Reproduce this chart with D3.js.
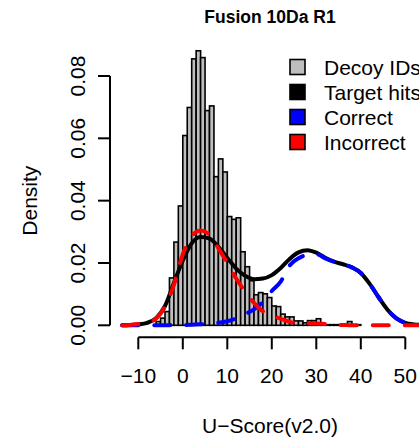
<!DOCTYPE html>
<html><head><meta charset="utf-8">
<script src="https://cdn.jsdelivr.net/npm/d3@7"></script>
<style>
html,body{margin:0;padding:0;background:#fff;}
svg{display:block;}
text{font-family:"Liberation Sans",Arial,Helvetica,sans-serif;fill:#000;}
</style></head>
<body>
<svg id="c" width="419" height="442"></svg>
<script>
// Histogram of decoy IDs: bin starts (width 1) and densities
const binStarts = [-6,-5,-4,-3,-2,-1,0,1,2,3,4,5,6,7,8,9,10,11,12,13,14,15,16,17,18,19,20,21,22,23,24,25,26,27,28,29,30,31,32,33,34,35,36,37,38,39];
const decoyDensity = [0.0012,0.0023,0.0044,0.0152,0.0267,0.0383,0.0609,0.0699,0.0855,0.0881,0.0859,0.0689,0.0704,0.0477,0.0534,0.0492,0.0349,0.0340,0.0345,0.0236,0.0188,0.0143,0.0098,0.0105,0.0101,0.0089,0.0062,0.0060,0.0036,0.0027,0.0027,0.0014,0.0014,0.0008,0.0015,0.0015,0.0021,0.0004,0.0002,0.0002,0.0002,0.0002,0.0002,0.0012,0.0002,0.0002];

// Density curves
const curveX      = [-13.6,-12,-10,-8,-6,-4,-2,0,2,4,6,8,10,12,14,16,18,20,22,24,26,28,30,32,34,36,38,40,42,44,46,48,50,52,53.6];
const targetHits  = [0,0.0001,0.0003,0.0008,0.0023,0.0062,0.0136,0.0208,0.0263,0.0283,0.0278,0.0252,0.0216,0.0182,0.0159,0.0148,0.0150,0.0161,0.0184,0.0213,0.0234,0.0241,0.0233,0.0217,0.0204,0.0196,0.0186,0.0168,0.0133,0.0090,0.0050,0.0022,0.0008,0.0003,0.0001];
const correct     = [0,0,0,0,0,0,0.0001,0.0001,0.0002,0.0003,0.0005,0.0008,0.0013,0.0022,0.0036,0.0051,0.0075,0.0110,0.0140,0.0192,0.0215,0.0226,0.0228,0.0215,0.0204,0.0196,0.0186,0.0168,0.0133,0.0090,0.0050,0.0022,0.0008,0.0003,0.0001];
const incorrect   = [0,0.0001,0.0004,0.0008,0.0022,0.0060,0.0130,0.0228,0.0285,0.0304,0.0290,0.0247,0.0200,0.0150,0.0108,0.0072,0.0045,0.0032,0.0021,0.0011,0.0007,0.0007,0.0006,0.0004,0.0002,0.0001,0,0,0,0,0,0,0,0,0];

const xTicks = [-10,0,10,20,30,40,50];
const yTicks = [0,0.02,0.04,0.06,0.08];
const legendLabels = ["Decoy IDs","Target hits","Correct","Incorrect"];
const legendColors = ["#bebebe","#000000","#0000ff","#ff0000"];

const svg = d3.select("#c");
const x = d3.scaleLinear().domain([-10,50]).range([138.3,405.3]);
const y = d3.scaleLinear().domain([0,0.08]).range([325.3,76]);

// bars
svg.append("g").selectAll("rect").data(binStarts).join("rect")
  .attr("x", d=>x(d)).attr("width", d=>x(d+1)-x(d))
  .attr("y", (d,i)=>y(decoyDensity[i])).attr("height",(d,i)=>y(0)-y(decoyDensity[i]))
  .attr("fill","#bebebe").attr("stroke","#000").attr("stroke-width",1.6);

const line = d3.line().x(d=>x(d[0])).y(d=>y(d[1])).curve(d3.curveMonotoneX);
function draw(vals,color,dashed){
  svg.append("path").datum(curveX.map((v,i)=>[v,vals[i]]))
    .attr("d",line).attr("fill","none").attr("stroke",color).attr("stroke-width",4)
    .attr("stroke-linecap","round").attr("stroke-linejoin","round")
    .attr("stroke-dasharray",dashed?"16,16":null);
}
draw(targetHits,"#000",false);
draw(correct,"#0000ff",true);
draw(incorrect,"#ff0000",true);

// x axis
const xa = svg.append("g").attr("transform","translate(0,337.3)");
xa.append("line").attr("x1",x(-10)).attr("x2",x(50)).attr("stroke","#000").attr("stroke-width",2);
xa.selectAll("line.t").data(xTicks).join("line").attr("class","t")
  .attr("x1",d=>x(d)).attr("x2",d=>x(d)).attr("y1",0).attr("y2",12).attr("stroke","#000").attr("stroke-width",2);
xa.selectAll("text").data(xTicks).join("text")
  .attr("x",d=>x(d)).attr("y",45.4).attr("text-anchor","middle").attr("font-size",21)
  .text(d=>d<0?"\u2212"+Math.abs(d):d);

// y axis
const ya = svg.append("g").attr("transform","translate(110,0)");
ya.append("line").attr("y1",y(0)).attr("y2",y(0.08)).attr("stroke","#000").attr("stroke-width",2);
ya.selectAll("line.t").data(yTicks).join("line").attr("class","t")
  .attr("y1",d=>y(d)).attr("y2",d=>y(d)).attr("x1",0).attr("x2",-12).attr("stroke","#000").attr("stroke-width",2);
ya.selectAll("text").data(yTicks).join("text")
  .attr("transform",d=>`translate(-25,${y(d)}) rotate(-90)`)
  .attr("text-anchor","middle").attr("font-size",21)
  .text(d=>d3.format(".2f")(d));

// labels
svg.append("text").attr("x",270).attr("y",22.7).attr("text-anchor","middle")
  .attr("font-size",17.5).attr("font-weight","bold").text("Fusion 10Da R1");
svg.append("text").attr("x",270).attr("y",432.7).attr("text-anchor","middle")
  .attr("font-size",21).text("U\u2212Score(v2.0)");
svg.append("text").attr("transform",`translate(37,${y(0.04)}) rotate(-90)`).attr("text-anchor","middle")
  .attr("font-size",21).text("Density");

// legend
const lg = svg.append("g");
legendLabels.forEach((t,i)=>{
  const cy = 67 + i*25;
  lg.append("rect").attr("x",290).attr("y",cy-7.5).attr("width",15).attr("height",15)
    .attr("fill",legendColors[i]).attr("stroke","#000").attr("stroke-width",1.6);
  lg.append("text").attr("x",324).attr("y",cy+7.5).attr("font-size",21).text(t);
});
</script>
</body></html>
